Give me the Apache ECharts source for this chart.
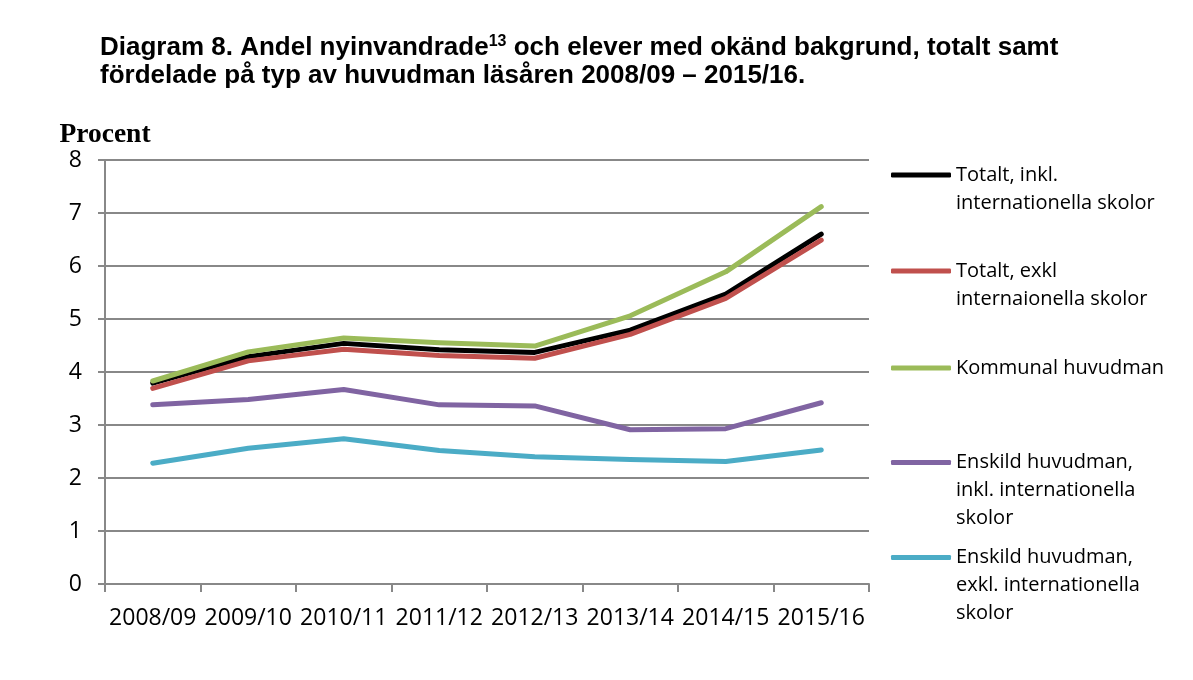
<!DOCTYPE html>
<html>
<head>
<meta charset="utf-8">
<script src="https://cdn.jsdelivr.net/npm/echarts@6/dist/echarts.min.js"></script>
<style>
html,body{margin:0;padding:0;background:#fff;}
#chart{width:1193px;height:680px;}
</style>
</head>
<body>
<div id="chart"></div>
<script>
const categories = ['2008/09','2009/10','2010/11','2011/12','2012/13','2013/14','2014/15','2015/16'];
const totaltInkl = [3.79, 4.29, 4.54, 4.42, 4.37, 4.79, 5.47, 6.60];
const totaltExkl = [3.69, 4.21, 4.43, 4.31, 4.26, 4.71, 5.39, 6.49];
const kommunal = [3.83, 4.38, 4.64, 4.55, 4.49, 5.06, 5.89, 7.12];
const enskildInkl = [3.38, 3.48, 3.67, 3.38, 3.36, 2.91, 2.93, 3.42];
const enskildExkl = [2.28, 2.56, 2.74, 2.52, 2.40, 2.35, 2.31, 2.53];
const seriesNames = [
  'Totalt, inkl. internationella skolor',
  'Totalt, exkl internaionella skolor',
  'Kommunal huvudman',
  'Enskild huvudman, inkl. internationella skolor',
  'Enskild huvudman, exkl. internationella skolor'
];
const legendLines = [
  ['Totalt, inkl.', 'internationella skolor'],
  ['Totalt, exkl', 'internaionella skolor'],
  ['Kommunal huvudman'],
  ['Enskild huvudman,', 'inkl. internationella', 'skolor'],
  ['Enskild huvudman,', 'exkl. internationella', 'skolor']
];
const seriesData = [totaltInkl, totaltExkl, kommunal, enskildInkl, enskildExkl];
const seriesColors = ['#000000', '#C0504D', '#9BBB59', '#8064A2', '#4BACC6'];
const yMin = 0, yMax = 8, yStep = 1;

const legendIconY = [175, 271, 367, 462, 557];
const LH = 28;
const legendShift = {1: 5, 2: 9, 3: 23.5};

const chart = echarts.init(document.getElementById('chart'));

const legends = seriesNames.map((name, i) => {
  const n = legendLines[i].length;
  const lines = legendLines[i].map(s => '{t|' + s + '}');
  const text = (n > 1 ? '{p| }\n' : '') + lines.join('\n');
  return {
    orient: 'vertical',
    left: 891,
    top: legendIconY[i] - (2 * n - 1) * LH / 2 + legendShift[n],
    padding: 0,
    itemWidth: 60,
    itemHeight: 5,
    icon: 'roundRect',
    data: [name],
    selectedMode: false,
    formatter: () => text,
    textStyle: {
      fontFamily: 'Open Sans',
      fontSize: 20,
      color: '#000',
      rich: {
        t: {fontFamily: 'Open Sans', fontSize: 20, color: '#000', lineHeight: LH},
        p: {fontSize: 10, lineHeight: Math.max(1, (n - 1) * LH)}
      }
    }
  };
});

chart.setOption({
  animation: false,
  backgroundColor: '#ffffff',
  title: {
    left: 100,
    top: 34,
    padding: 0,
    text: '{a|Diagram 8. Andel nyinvandrade}{s|13}{a| och elever med okänd bakgrund, totalt samt}\n{a|fördelade på typ av huvudman läsåren 2008/09 – 2015/16.}',
    textStyle: {
      rich: {
        a: {fontFamily: 'Liberation Sans', fontWeight: 'bold', fontSize: 26, lineHeight: 28, color: '#000'},
        s: {fontFamily: 'Liberation Sans', fontWeight: 'bold', fontSize: 16, lineHeight: 14, color: '#000', verticalAlign: 'top'}
      }
    }
  },
  legend: legends,
  grid: {left: 105, right: 324, top: 160, bottom: 96, containLabel: false},
  xAxis: {
    type: 'category',
    data: categories,
    boundaryGap: true,
    axisLine: {lineStyle: {color: '#888888', width: 2}},
    axisTick: {show: true, length: 8, lineStyle: {color: '#888888', width: 2}},
    axisLabel: {color: '#000', fontFamily: 'Open Sans', fontSize: 23, lineHeight: 26, margin: 21, interval: 0},
    splitLine: {show: false}
  },
  yAxis: {
    type: 'value',
    min: yMin, max: yMax, interval: yStep,
    name: 'Procent',
    nameLocation: 'end',
    nameGap: 8,
    nameTextStyle: {fontFamily: 'Liberation Serif', fontWeight: 'bold', fontSize: 27.5, color: '#000', lineHeight: 27},
    axisLine: {show: true, lineStyle: {color: '#888888', width: 2}},
    axisTick: {show: true, length: 7, lineStyle: {color: '#888888', width: 2}},
    axisLabel: {color: '#000', fontFamily: 'Open Sans', fontSize: 23, margin: 23},
    splitLine: {show: true, lineStyle: {color: '#888888', width: 2}}
  },
  series: seriesNames.map((name, i) => ({
    name: name,
    type: 'line',
    data: seriesData[i],
    symbol: 'none',
    color: seriesColors[i],
    lineStyle: {width: 5, color: seriesColors[i], cap: 'round', join: 'round'},
    z: 2 + i
  }))
});
</script>
</body>
</html>
